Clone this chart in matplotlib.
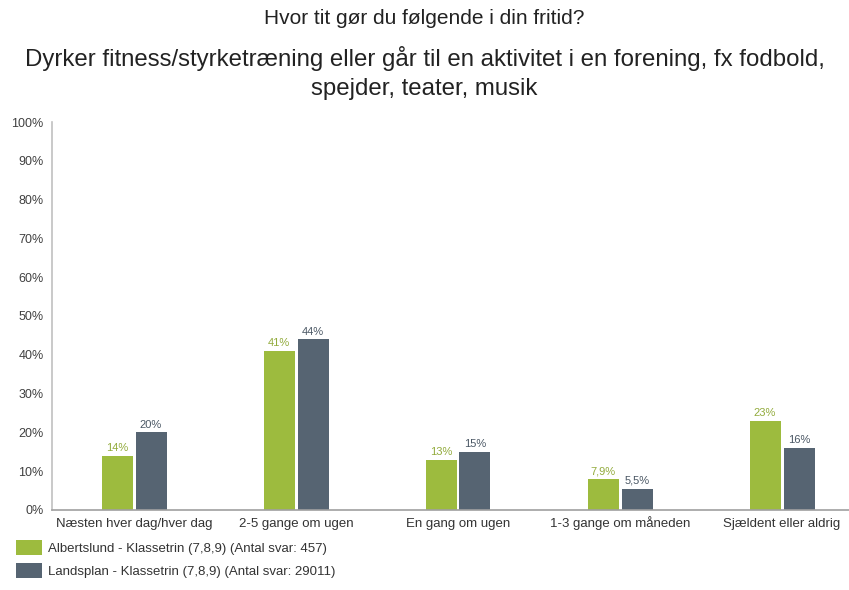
import numpy as np
import matplotlib.pyplot as plt
from matplotlib.patches import Patch

# データ
categories = ['Næsten hver dag/hver dag', '2-5 gange om ugen', 'En gang om ugen',
              '1-3 gange om måneden', 'Sjældent eller aldrig']
albertslund = [14, 41, 13, 7.9, 23]
landsplan = [20, 44, 15, 5.5, 16]
albertslund_labels = ['14%', '41%', '13%', '7,9%', '23%']
landsplan_labels = ['20%', '44%', '15%', '5,5%', '16%']
series_names = ['Albertslund - Klassetrin (7,8,9) (Antal svar: 457)',
                'Landsplan - Klassetrin (7,8,9) (Antal svar: 29011)']
yticks = np.arange(0, 101, 10)

GREEN = '#9dbb3e'
GRAY = '#566472'
TEXT = '#404040'

plt.rcParams['font.family'] = ['Liberation Sans', 'DejaVu Sans']

fig = plt.figure(figsize=(8.49, 5.9), dpi=100)
ax = fig.add_axes([52 / 849, 80 / 590, 797 / 849, 388 / 590])

x = np.arange(len(categories))
w = 31 / 162
off = 17 / 162
b1 = ax.bar(x - off, albertslund, width=w, color=GREEN)
b2 = ax.bar(x + off, landsplan, width=w, color=GRAY)

for rect, lab in zip(b1, albertslund_labels):
    ax.annotate(lab, (rect.get_x() + rect.get_width() / 2, rect.get_height()),
                xytext=(0, 2), textcoords='offset points', ha='center', va='bottom',
                fontsize=8, color='#92ab3c')
for rect, lab in zip(b2, landsplan_labels):
    ax.annotate(lab, (rect.get_x() + rect.get_width() / 2, rect.get_height()),
                xytext=(0, 2), textcoords='offset points', ha='center', va='bottom',
                fontsize=8, color='#4a5764')

ax.set_xlim(-82 / 162, 715 / 162)
ax.set_ylim(0, 100)
ax.set_yticks(yticks)
ax.set_yticklabels([f'{v}%' for v in yticks], fontsize=9, color=TEXT)
ax.set_xticks(x)
ax.set_xticklabels(categories, fontsize=9.5, color='#333333')
ax.tick_params(axis='y', length=0, pad=6)
ax.tick_params(axis='x', length=0, pad=12.5)
for lbl in ax.get_xticklabels():
    lbl.set_va('baseline')

for s in ['top', 'right']:
    ax.spines[s].set_visible(False)
ax.spines['left'].set_color('#c0c0c0')
ax.spines['bottom'].set_color('#a0a0a0')
ax.spines['left'].set_linewidth(1.2)
ax.spines['bottom'].set_linewidth(1.2)

# タイトル
fig.text(0.5, 1 - 18 / 590, 'Hvor tit gør du følgende i din fritid?',
         ha='center', va='center', fontsize=15, color='#222222')
fig.text(0.5, 1 - 73 / 590,
         'Dyrker fitness/styrketræning eller går til en aktivitet i en forening, fx fodbold,\nspejder, teater, musik',
         ha='center', va='center', fontsize=17.3, color='#222222', linespacing=1.38)

# 凡例
handles = [Patch(facecolor=GREEN), Patch(facecolor=GRAY)]
fig.legend(handles, series_names, loc='upper left', bbox_to_anchor=(12 / 849, 1 - 536 / 590),
           frameon=False, fontsize=9.5, handlelength=2.0, handleheight=1.4,
           handletextpad=0.4, labelspacing=0.6, borderaxespad=0, borderpad=0.3,
           labelcolor='#333333')

fig.savefig('out.png', dpi=100)
